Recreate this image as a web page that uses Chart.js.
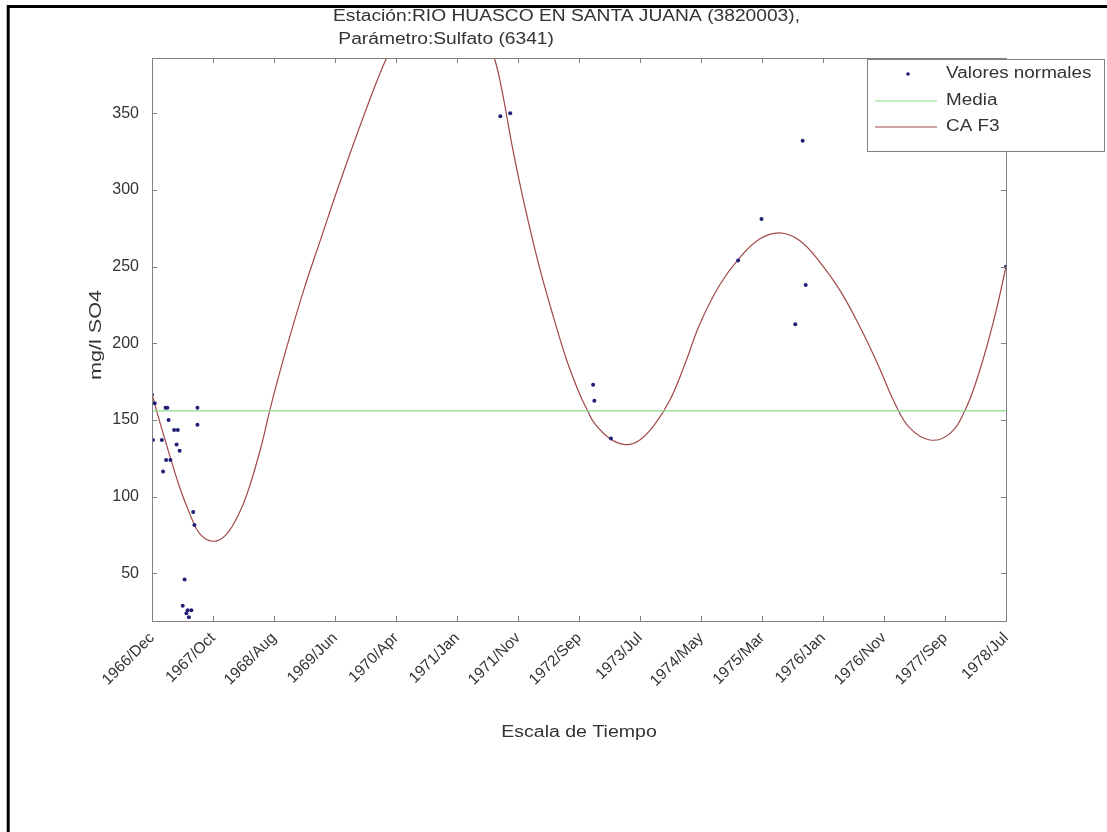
<!DOCTYPE html>
<html>
<head>
<meta charset="utf-8">
<title>Sulfato - Rio Huasco en Santa Juana</title>
<script src="https://cdn.jsdelivr.net/npm/chart.js@4.4.0/dist/chart.umd.min.js"></script>
<style>
    html, body { margin: 0; padding: 0; background: #fff; }
    #wrap { width: 1107px; height: 832px; }
</style>
</head>
<body>
<div id="wrap"><canvas id="grafico" width="1107" height="832"></canvas></div>
<script>
// Eje de tiempo en meses desde 1966/Dec
const totalMeses = 139;
const tickLabels = ['1966/Dec', '1967/Oct', '1968/Aug', '1969/Jun', '1970/Apr', '1971/Jan', '1971/Nov',
    '1972/Sep', '1973/Jul', '1974/May', '1975/Mar', '1976/Jan', '1976/Nov', '1977/Sep', '1978/Jul'];
const yTicks = [50, 100, 150, 200, 250, 300, 350];
const yMin = 19;
const yMax = 386;

// Valores normales (mes, mg/l)
const puntosMes = [0.0, 0.44, 2.2, 2.5, 7.4, 2.7, 7.4, 3.6, 4.2, 0.16, 1.6, 4.0, 4.5, 2.3, 3.0, 1.8,
    6.7, 6.9, 5.3, 5.0, 5.8, 6.4, 5.6, 6.0, 56.7, 58.3, 71.8, 72.0, 74.7, 95.4, 99.2, 105.9, 106.4, 104.7, 139];
const puntosValor = [166.5, 161, 158, 158, 158, 150, 147, 143.5, 143.5, 137, 137, 134, 130, 124, 124, 116.5,
    90, 81.5, 46, 29, 26, 26, 24, 21.5, 348, 350, 173, 162.5, 138, 254, 281, 332, 238, 212.5, 250];

// Media
const media = 156;

// Curva CA F3
const curvaMes = [0, 1.25, 2.88, 4.51, 6.14, 7.76, 9.88, 12.0, 14.27, 15.9, 17.85, 19.15, 20.45, 22.4, 24.8,
    27.3, 30.5, 33.7, 36.9, 38.9, 41.9, 45.2, 48.5, 51.7, 54.1, 55.8, 57.1, 58.7, 60.7, 63.1, 65.5, 67.5,
    69.6, 70.9, 72.0, 74.5, 77.1, 79.4, 81.8, 84.3, 86.7, 89.1, 92.4, 95.7, 98.9, 102.2, 105.4, 108.7,
    111.9, 115.2, 118.4, 120.9, 123.3, 126.6, 129.8, 132.3, 134.7, 137.2, 139];
const curvaValor = [167, 149, 127, 106, 89, 76, 71, 75, 90, 107, 134, 156, 176, 204, 236,
    266, 304, 340, 374, 392, 414, 426, 427, 418, 403, 385, 362, 327, 289, 249, 215, 189,
    167, 156, 148, 138, 134, 137, 147, 163, 186, 212, 238, 256, 268, 272, 267, 253,
    235, 211, 184, 161, 145, 137, 141, 156, 182, 218, 250];

const fuente = "'Liberation Sans', Arial, sans-serif";
const colorTexto = '#333';
const colorEjes = '#808080';
const colorPuntos = '#1f1f78';
const colorMedia = '#8cdc8c';
const colorCurva = '#a04848';

// texto algo ensanchado, como en la imagen original
function textoAncho(ctx, txt, x, y, escala, align) {
    ctx.save();
    ctx.translate(x, y);
    ctx.scale(escala, 1);
    ctx.textAlign = align;
    ctx.fillText(txt, 0, 0);
    ctx.restore();
}

// Dibujo de caja, marcas, titulos y leyenda al estilo MATLAB
const estiloMatlab = {
    id: 'estiloMatlab',
    afterDraw(chart) {
        const ctx = chart.ctx;
        const a = chart.chartArea;
        const xs = chart.scales.x;
        const ys = chart.scales.y;
        ctx.save();

        // caja de ejes
        ctx.strokeStyle = colorEjes;
        ctx.lineWidth = 1;
        ctx.strokeRect(Math.round(a.left) + 0.5, Math.round(a.top) + 0.5,
            Math.round(a.right - a.left), Math.round(a.bottom - a.top));

        // marcas hacia dentro
        ctx.beginPath();
        yTicks.forEach(v => {
            const y = Math.round(ys.getPixelForValue(v)) + 0.5;
            ctx.moveTo(a.left, y); ctx.lineTo(a.left + 5, y);
            ctx.moveTo(a.right, y); ctx.lineTo(a.right - 5, y);
        });
        xs.ticks.forEach(t => {
            const x = Math.round(xs.getPixelForValue(t.value)) + 0.5;
            ctx.moveTo(x, a.bottom); ctx.lineTo(x, a.bottom - 5);
            ctx.moveTo(x, a.top); ctx.lineTo(x, a.top + 5);
        });
        ctx.stroke();

        // titulo
        ctx.fillStyle = colorTexto;
        ctx.font = '16px ' + fuente;
        ctx.textBaseline = 'alphabetic';
        textoAncho(ctx, 'Estación:RIO HUASCO EN SANTA JUANA (3820003),', 333, 21, 1.2, 'left');
        textoAncho(ctx, ' Parámetro:Sulfato (6341)', 333, 44, 1.2, 'left');

        // titulos de ejes
        ctx.textBaseline = 'middle';
        textoAncho(ctx, 'Escala de Tiempo', (a.left + a.right) / 2, 733, 1.22, 'center');
        ctx.save();
        ctx.translate(97, 335);
        ctx.rotate(-Math.PI / 2);
        textoAncho(ctx, 'mg/l SO4', 0, 0, 1.35, 'center');
        ctx.restore();

        // leyenda
        ctx.fillStyle = '#fff';
        ctx.fillRect(867, 59, 237, 92);
        ctx.strokeStyle = colorEjes;
        ctx.strokeRect(867.5, 59.5, 237, 92);
        ctx.fillStyle = colorPuntos;
        ctx.beginPath();
        ctx.arc(908, 74, 1.8, 0, Math.PI * 2);
        ctx.fill();
        ctx.lineWidth = 1.2;
        ctx.strokeStyle = colorMedia;
        ctx.beginPath(); ctx.moveTo(875, 101); ctx.lineTo(937, 101); ctx.stroke();
        ctx.strokeStyle = colorCurva;
        ctx.beginPath(); ctx.moveTo(875, 127); ctx.lineTo(937, 127); ctx.stroke();
        ctx.fillStyle = colorTexto;
        ctx.textBaseline = 'middle';
        textoAncho(ctx, 'Valores normales', 946, 74, 1.18, 'left');
        textoAncho(ctx, 'Media', 946, 101, 1.18, 'left');
        textoAncho(ctx, 'CA F3', 946, 127, 1.18, 'left');

        // marco exterior
        ctx.strokeStyle = '#000';
        ctx.lineWidth = 3;
        ctx.beginPath();
        ctx.moveTo(8.2, 832); ctx.lineTo(8.2, 6.5); ctx.lineTo(1107, 6.5);
        ctx.stroke();

        ctx.restore();
    }
};

const datosPuntos = puntosMes.map((m, i) => ({ x: m, y: puntosValor[i] }));
const datosCurva = curvaMes.map((m, i) => ({ x: m, y: curvaValor[i] }));
const datosMedia = [{ x: 0, y: media }, { x: totalMeses, y: media }];

new Chart(document.getElementById('grafico'), {
    type: 'scatter',
    data: {
        datasets: [
            {
                label: 'CA F3',
                data: datosCurva,
                showLine: true,
                borderColor: colorCurva,
                borderWidth: 1.2,
                pointRadius: 0,
                tension: 0.4,
                order: 3
            },
            {
                label: 'Media',
                data: datosMedia,
                showLine: true,
                borderColor: colorMedia,
                borderWidth: 1.2,
                pointRadius: 0,
                order: 2
            },
            {
                label: 'Valores normales',
                data: datosPuntos,
                showLine: false,
                backgroundColor: colorPuntos,
                borderWidth: 0,
                pointRadius: 2,
                order: 1
            }
        ]
    },
    options: {
        responsive: false,
        animation: false,
        devicePixelRatio: 1,
        layout: { padding: { left: 0, right: 101, top: 58, bottom: 0 } },
        plugins: {
            legend: { display: false },
            tooltip: { enabled: false },
            title: { display: false }
        },
        scales: {
            x: {
                type: 'linear',
                min: 0,
                max: totalMeses,
                afterBuildTicks: scale => {
                    scale.ticks = tickLabels.map((_, i) => ({ value: i * totalMeses / (tickLabels.length - 1) }));
                },
                afterFit: scale => { scale.height = 832 - 621; },
                grid: { display: false, drawTicks: false },
                border: { display: false },
                ticks: {
                    autoSkip: false,
                    maxRotation: 45,
                    minRotation: 45,
                    padding: 8,
                    color: colorTexto,
                    font: { family: fuente, size: 15.5 },
                    callback: (v, i) => tickLabels[i]
                }
            },
            y: {
                type: 'linear',
                min: yMin,
                max: yMax,
                afterBuildTicks: scale => {
                    scale.ticks = yTicks.map(v => ({ value: v }));
                },
                afterFit: scale => { scale.width = 152; },
                grid: { display: false, drawTicks: false },
                border: { display: false },
                ticks: {
                    padding: 13,
                    color: colorTexto,
                    font: { family: fuente, size: 16 }
                }
            }
        }
    },
    plugins: [estiloMatlab]
});
</script>
</body>
</html>
